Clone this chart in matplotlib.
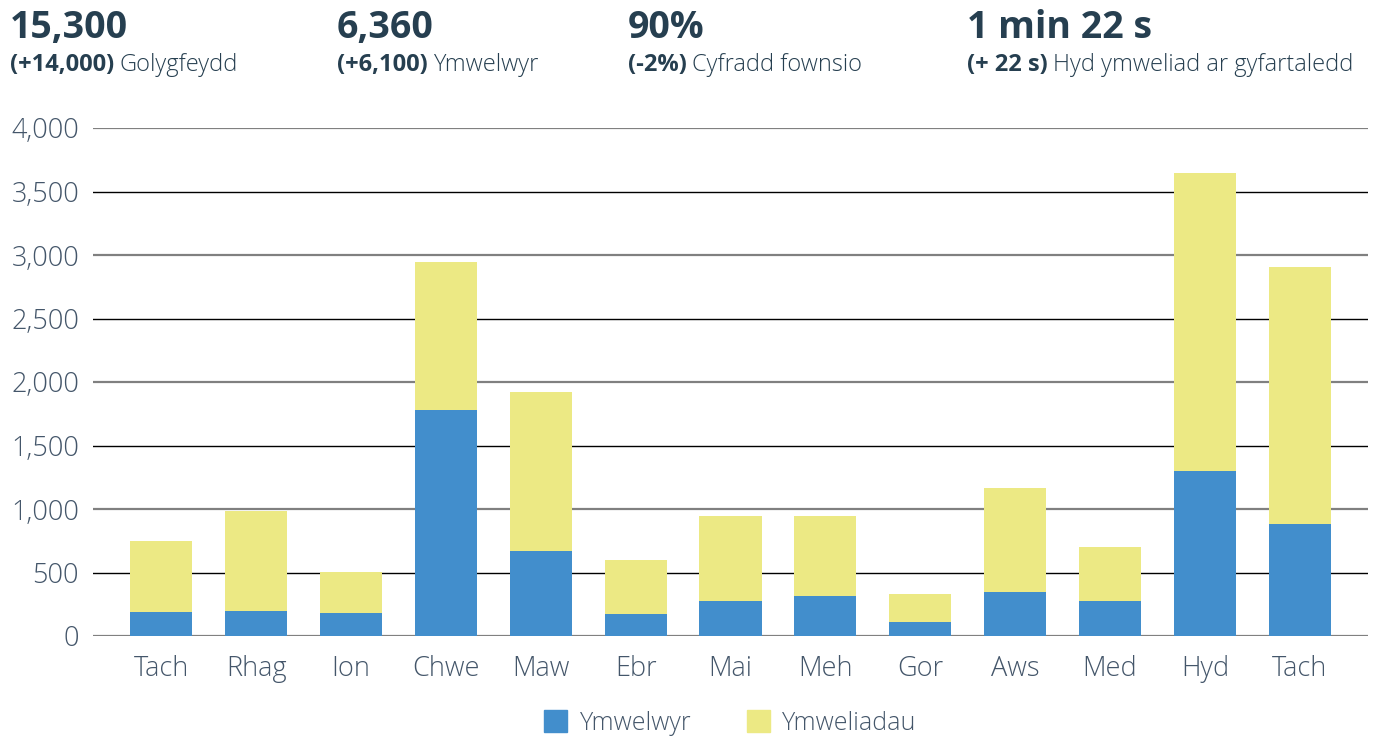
import numpy as np
import matplotlib
matplotlib.use("Agg")
import matplotlib.pyplot as plt
from matplotlib.patches import Patch

# data
months = ["Tach", "Rhag", "Ion", "Chwe", "Maw", "Ebr", "Mai", "Meh", "Gor", "Aws", "Med", "Hyd", "Tach"]
ymwelwyr = [189, 197, 181, 1780, 669, 173, 276, 315, 110, 346, 275, 1297, 880]
totals = [748, 984, 504, 2945, 1921, 598, 945, 945, 330, 1164, 700, 3648, 2909]
ymweliadau = [t - v for t, v in zip(totals, ymwelwyr)]
yticks = [0, 500, 1000, 1500, 2000, 2500, 3000, 3500, 4000]

headline_values = ["15,300", "6,360", "90%", "1 min 22 s"]
headline_changes = ["(+14,000)", "(+6,100)", "(-2%)", "(+ 22 s)"]
headline_labels = ["Golygfeydd", "Ymwelwyr", "Cyfradd fownsio", "Hyd ymweliad ar gyfartaledd"]

BLUE = "#428ecc"
YELLOW = "#ece984"
DARK = "#263f50"
TICK = "#44566a"

plt.rcParams["font.family"] = ["Open Sans", "DejaVu Sans"]

fig = plt.figure(figsize=(13.86, 7.38), dpi=100)
ax = fig.add_axes([93 / 1386, 1 - 636 / 738, (1368 - 93) / 1386, (636 - 128) / 738])

x = np.arange(len(months))
ax.bar(x, ymwelwyr, width=0.655, color=BLUE, zorder=3, label="Ymwelwyr")
ax.bar(x, ymweliadau, width=0.655, bottom=ymwelwyr, color=YELLOW, zorder=3, label="Ymweliadau")

# alternating gridlines: grey on the thousands, thin black on the halves
for i, v in enumerate(yticks):
    if i % 2 == 0:
        ax.axhline(v, color="#808080", lw=1.6, zorder=1)
    else:
        ax.axhline(v, color="black", lw=1.0, zorder=1)

ax.set_xlim(-0.72, len(months) - 1 + 0.72)
ax.set_ylim(0, 4000)
ax.set_yticks(yticks)
ax.set_yticklabels([f"{v:,}" for v in yticks])
ax.set_xticks(x)
ax.set_xticklabels(months)
ax.tick_params(axis="both", length=0, labelsize=19.5, labelcolor=TICK)
ax.tick_params(axis="y", pad=10)
ax.tick_params(axis="x", pad=14)
for lab in ax.get_xticklabels() + ax.get_yticklabels():
    lab.set_fontweight(300)
for s in ax.spines.values():
    s.set_visible(False)

# header stats
xs = [10, 337, 628, 967]
renderer = fig.canvas.get_renderer()
for xp, val, chg, lab in zip(xs, headline_values, headline_changes, headline_labels):
    fig.text(xp / 1386, 1 - 38 / 738, val, fontsize=27, fontweight="bold", color=DARK,
             ha="left", va="baseline")
    t = fig.text(xp / 1386, 1 - 71 / 738, chg, fontsize=17, fontweight="bold", color=DARK,
                 ha="left", va="baseline")
    bb = t.get_window_extent(renderer)
    fig.text((bb.x1 + 5) / 1386, 1 - 71 / 738, lab, fontsize=17, fontweight=300,
             color=DARK, ha="left", va="baseline")

handles = [Patch(color=BLUE, label="Ymwelwyr"), Patch(color=YELLOW, label="Ymweliadau")]
leg = fig.legend(handles=handles, loc="center", bbox_to_anchor=(0.527, 1 - 723 / 738),
                 ncol=2, frameon=False, fontsize=18, handlelength=0.92, handleheight=0.92,
                 handletextpad=0.5, columnspacing=2.2)
for t in leg.get_texts():
    t.set_color(TICK)
    t.set_fontweight(300)

fig.savefig("out.png", dpi=100)
